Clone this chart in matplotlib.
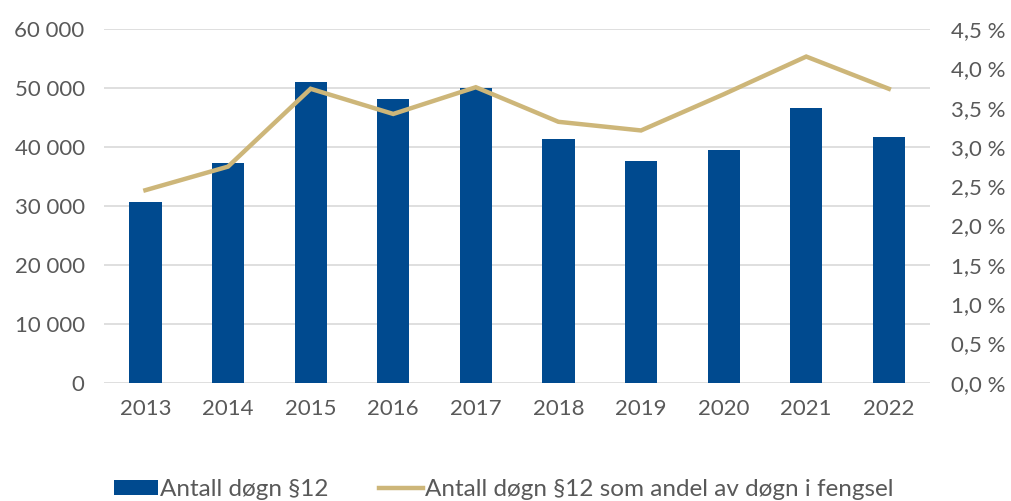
import matplotlib.pyplot as plt
from matplotlib.ticker import FuncFormatter

years = ['2013', '2014', '2015', '2016', '2017', '2018', '2019', '2020', '2021', '2022']
dogn = [30700, 37300, 51000, 48200, 50000, 41400, 37550, 39500, 46600, 41700]
andel = [2.45, 2.75, 3.74, 3.42, 3.76, 3.32, 3.21, 3.67, 4.15, 3.74]

blue = '#004A8F'
gold = '#CDB679'
grey = '#595959'

plt.rcParams['font.family'] = ['Lato', 'DejaVu Sans']

fig = plt.figure(figsize=(10.11, 5.01), dpi=100)
ax = fig.add_axes([0.103, 0.236, 0.817, 0.706])
ax2 = ax.twinx()

x = range(len(years))
ax.bar(x, dogn, width=0.39, color=blue, zorder=2, label='Antall døgn §12')
ax2.plot(x, andel, color=gold, lw=3.2, solid_joinstyle='miter',
         label='Antall døgn §12 som andel av døgn i fengsel')

ax.set_xlim(-0.5, len(years) - 0.5)
ax.set_ylim(0, 60000)
ax.set_yticks(range(0, 60001, 10000))
ax.yaxis.set_major_formatter(FuncFormatter(lambda v, p: f'{int(v):,}'.replace(',', ' ')))
ax2.set_ylim(0, 4.5)
ax2.set_yticks([i * 0.5 for i in range(10)])
ax2.yaxis.set_major_formatter(FuncFormatter(lambda v, p: f'{v:.1f} %'.replace('.', ',')))

ax.set_xticks(list(x))
ax.set_xticklabels(years)
ax.grid(axis='y', color='#D9D9D9', lw=1.2, zorder=0)
ax.set_axisbelow(True)

for a in (ax, ax2):
    for s in a.spines.values():
        s.set_visible(False)
    a.tick_params(length=0, labelsize=16, labelcolor=grey)
ax.tick_params(axis='y', pad=14)
ax.tick_params(axis='x', pad=12)
ax2.tick_params(axis='y', pad=15)

h1, l1 = ax.get_legend_handles_labels()
h2, l2 = ax2.get_legend_handles_labels()
fig.legend(h1 + h2, l1 + l2, loc='lower left', bbox_to_anchor=(0.101, -0.022),
           ncol=2, frameon=False, fontsize=17.5, labelcolor=grey, borderpad=0,
           handlelength=1.8, handletextpad=0.08, columnspacing=2.1,
           handleheight=0.6)

fig.savefig('out.png', dpi=100)
